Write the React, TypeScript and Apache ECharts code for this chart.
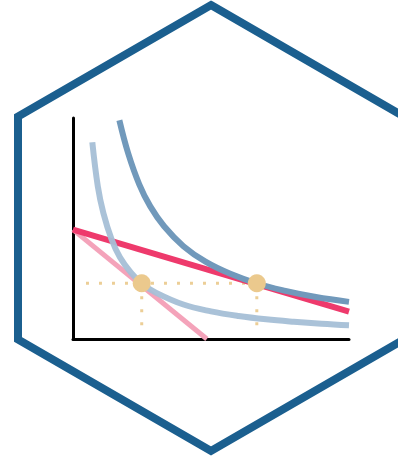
import React, { useEffect, useRef } from "react";
import * as echarts from "echarts";

// Indifference curve U1 (lower, light blue)
const lowCurveX = [7, 9, 11, 14, 17, 21, 25, 30, 40, 50, 60, 70, 80, 90, 100];
const lowCurveY = [89, 69, 57, 45, 37, 30, 25, 21, 15.6, 12.5, 10.4, 8.9, 7.8, 6.9, 6.2];
// Indifference curve U2 (upper, dark blue)
const highCurveX = [16.8, 20, 24, 28, 33, 40, 48, 57, 67, 77, 88, 100];
const highCurveY = [99, 84, 70, 60, 51, 42, 35, 29.5, 25, 21.8, 19, 16.8];
// Budget lines
const budgetNewX = [0, 100];
const budgetNewY = [49.5, 12.4];
const budgetOldX = [0, 48.5];
const budgetOldY = [49.5, 0];
// Optimal bundles
const optimaX = [24.9, 66.6];
const optimaY = [25.2, 25.2];
// Guide (dotted) lines
const guideStartX = 4.7;
const guideBottomY = 5.5;

const zip = (xs: number[], ys: number[]) => xs.map((x, i) => [x, ys[i]]);

export default function App() {
  const ref = useRef<HTMLDivElement>(null);
  useEffect(() => {
    if (!ref.current) return;
    const chart = echarts.init(ref.current, null, { renderer: "svg" });
    const gold = "#ebc98d";
    const dotted = { color: "#ecce96", width: 3, type: [3, 10] as any, cap: "butt" as any };
    chart.setOption({
      animation: false,
      backgroundColor: "#ffffff",
      grid: { left: 73, top: 118, width: 276, height: 221 },
      xAxis: {
        type: "value",
        min: 0,
        max: 100,
        axisLine: { show: true, onZero: false, lineStyle: { color: "#000", width: 3 } },
        axisTick: { show: false },
        axisLabel: { show: false },
        splitLine: { show: false },
      },
      yAxis: {
        type: "value",
        min: 0,
        max: 100,
        axisLine: { show: true, onZero: false, lineStyle: { color: "#000", width: 3 } },
        axisTick: { show: false },
        axisLabel: { show: false },
        splitLine: { show: false },
      },
      graphic: [
        {
          type: "polygon",
          z: 0,
          shape: {
            points: [
              [211, 5],
              [404, 116.5],
              [404, 339.5],
              [211, 451],
              [18, 339.5],
              [18, 116.5],
            ],
          },
          style: { fill: "none", stroke: "#1b5f8f", lineWidth: 8, lineJoin: "miter" },
        },
      ],
      series: [
        {
          type: "line",
          z: 1,
          data: [
            [guideStartX, optimaY[0]],
            [optimaX[1], optimaY[1]],
          ],
          showSymbol: false,
          lineStyle: dotted,
        },
        {
          type: "line",
          z: 1,
          data: [
            [optimaX[0], optimaY[0]],
            [optimaX[0], guideBottomY],
          ],
          showSymbol: false,
          lineStyle: dotted,
        },
        {
          type: "line",
          z: 1,
          data: [
            [optimaX[1], optimaY[1]],
            [optimaX[1], guideBottomY],
          ],
          showSymbol: false,
          lineStyle: dotted,
        },
        {
          type: "line",
          z: 2,
          data: zip(budgetOldX, budgetOldY),
          showSymbol: false,
          lineStyle: { color: "#f4a3ba", width: 5 },
        },
        {
          type: "line",
          z: 3,
          data: zip(budgetNewX, budgetNewY),
          showSymbol: false,
          lineStyle: { color: "#ee3a6c", width: 6 },
        },
        {
          type: "line",
          z: 4,
          data: zip(lowCurveX, lowCurveY),
          smooth: 0.4,
          showSymbol: false,
          lineStyle: { color: "#a5bfd6", width: 6, opacity: 0.95 },
        },
        {
          type: "line",
          z: 5,
          data: zip(highCurveX, highCurveY),
          smooth: 0.4,
          showSymbol: false,
          lineStyle: { color: "#7199bb", width: 6 },
        },
        {
          type: "scatter",
          z: 6,
          data: zip(optimaX, optimaY),
          symbolSize: 18,
          itemStyle: { color: gold, opacity: 1 },
        },
      ],
    });
    return () => chart.dispose();
  }, []);
  return (
    <div
      ref={ref}
      style={{ position: "fixed", left: 0, top: 0, width: 398, height: 457 }}
    />
  );
}
